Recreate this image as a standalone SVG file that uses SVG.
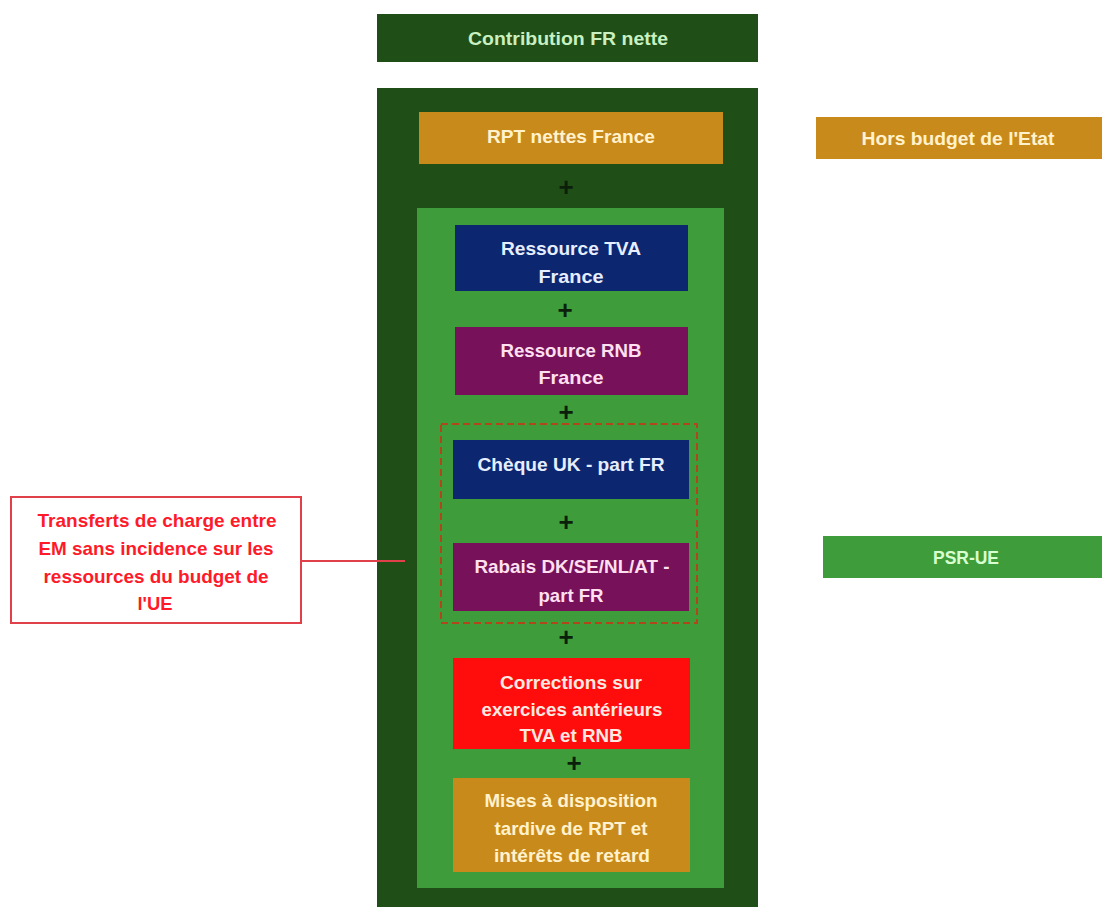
<svg xmlns="http://www.w3.org/2000/svg" width="1102" height="907" viewBox="0 0 1102 907">
<style>
.t{font-family:"Liberation Sans",Arial,sans-serif;font-weight:bold;font-size:19px;text-anchor:middle}
.plus{font-family:"Liberation Sans",Arial,sans-serif;font-weight:bold;font-size:26px;fill:#0b1f0b;text-anchor:middle}
</style>
<rect width="1102" height="907" fill="#ffffff"/>
<g id="contribution"><rect x="377" y="14" width="381" height="48" fill="#1f4e16"/><text class="t" x="568" y="45" fill="#c8f0c0" font-size="20" textLength="200" lengthAdjust="spacingAndGlyphs">Contribution FR nette</text></g>
<g id="cadre"><rect x="377" y="88" width="381" height="819" fill="#1f4e16"/></g>
<g id="rpt"><rect x="419" y="112" width="304" height="52" fill="#c98a1c"/><text class="t" x="571" y="143" fill="#fff2cc" textLength="168" lengthAdjust="spacingAndGlyphs">RPT nettes France</text></g>
<text class="plus" x="566" y="196">+</text>
<g id="psr-cadre"><rect x="417" y="208" width="307" height="680" fill="#3f9c3a"/></g>
<g id="tva"><rect x="455" y="225" width="233" height="66" fill="#0d2670"/><text class="t" x="571" y="255" fill="#e6eeff" textLength="140" lengthAdjust="spacingAndGlyphs">Ressource TVA</text><text class="t" x="571" y="283" fill="#e6eeff" textLength="65" lengthAdjust="spacingAndGlyphs">France</text></g>
<text class="plus" x="565" y="319">+</text>
<g id="rnb"><rect x="455" y="327" width="233" height="68" fill="#76115a"/><text class="t" x="571" y="357" fill="#ffe0f0" textLength="141" lengthAdjust="spacingAndGlyphs">Ressource RNB</text><text class="t" x="571" y="384" fill="#ffe0f0" textLength="65" lengthAdjust="spacingAndGlyphs">France</text></g>
<text class="plus" x="566" y="421">+</text>
<g id="transferts-groupe"><rect x="441" y="424" width="256" height="199" fill="none" stroke="#b0461a" stroke-width="2" stroke-dasharray="7,4"/></g>
<g id="cheque"><rect x="453" y="440" width="236" height="59" fill="#0d2670"/><text class="t" x="571" y="471" fill="#e6eeff" textLength="187" lengthAdjust="spacingAndGlyphs">Chèque UK - part FR</text></g>
<text class="plus" x="566" y="531">+</text>
<g id="rabais"><rect x="453" y="543" width="236" height="68" fill="#76115a"/><text class="t" x="572" y="573" fill="#ffe0f0" textLength="195" lengthAdjust="spacingAndGlyphs">Rabais DK/SE/NL/AT -</text><text class="t" x="571" y="602" fill="#ffe0f0" textLength="65" lengthAdjust="spacingAndGlyphs">part FR</text></g>
<text class="plus" x="566" y="646">+</text>
<g id="corrections"><rect x="453" y="658" width="237" height="91" fill="#ff0c0c"/><text class="t" x="571" y="689" fill="#ffe8e0" textLength="142" lengthAdjust="spacingAndGlyphs">Corrections sur</text><text class="t" x="572" y="716" fill="#ffe8e0" textLength="181" lengthAdjust="spacingAndGlyphs">exercices antérieurs</text><text class="t" x="571" y="742" fill="#ffe8e0" textLength="103" lengthAdjust="spacingAndGlyphs">TVA et RNB</text></g>
<text class="plus" x="574" y="772">+</text>
<g id="mises"><rect x="453" y="778" width="237" height="94" fill="#c98a1c"/><text class="t" x="571" y="807" fill="#fff2cc" textLength="173" lengthAdjust="spacingAndGlyphs">Mises à disposition</text><text class="t" x="571" y="835" fill="#fff2cc" textLength="153" lengthAdjust="spacingAndGlyphs">tardive de RPT et</text><text class="t" x="572" y="862" fill="#fff2cc" textLength="156" lengthAdjust="spacingAndGlyphs">intérêts de retard</text></g>
<g id="hors-budget"><rect x="816" y="117" width="286" height="42" fill="#c98a1c"/><text class="t" x="958" y="145" fill="#fff2cc" textLength="193" lengthAdjust="spacingAndGlyphs">Hors budget de l'Etat</text></g>
<g id="psr-ue"><rect x="823" y="536" width="279" height="42" fill="#3f9c3a"/><text class="t" x="966" y="564" fill="#d8ffd0" textLength="66" lengthAdjust="spacingAndGlyphs">PSR-UE</text></g>
<g id="transferts"><rect x="11" y="497" width="290" height="126" fill="#ffffff" stroke="#e0404a" stroke-width="2"/><text class="t" x="157" y="527" fill="#ff1a2a" textLength="239" lengthAdjust="spacingAndGlyphs">Transferts de charge entre</text><text class="t" x="156" y="555" fill="#ff1a2a" textLength="235" lengthAdjust="spacingAndGlyphs">EM sans incidence sur les</text><text class="t" x="156" y="583" fill="#ff1a2a" textLength="225" lengthAdjust="spacingAndGlyphs">ressources du budget de</text><text class="t" x="155" y="610" fill="#ff1a2a" textLength="35" lengthAdjust="spacingAndGlyphs">l'UE</text></g>
<g id="connecteurs"><line x1="301" y1="561" x2="405" y2="561" stroke="#e0404a" stroke-width="2"/></g>
</svg>
